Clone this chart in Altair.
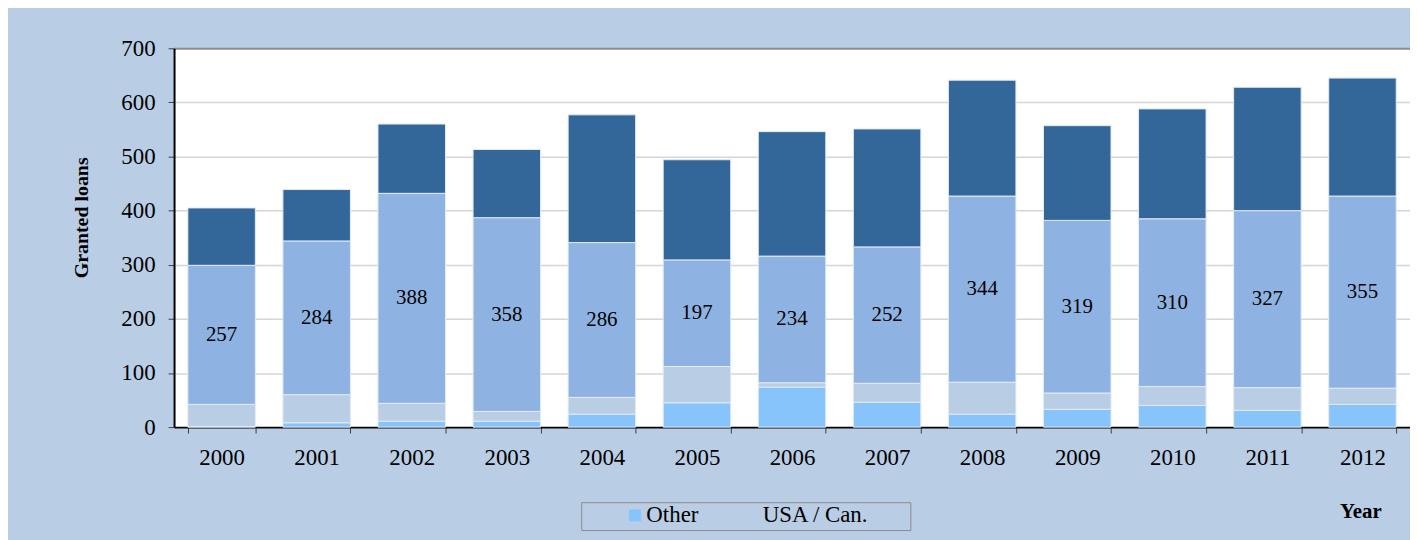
import altair as alt
import pandas as pd

years = [str(y) for y in range(2000, 2013)]
other = [1, 8, 11, 11, 24, 45, 74, 46, 24, 33, 40, 31, 42]
usa_can = [41, 52, 33, 18, 31, 67, 8, 35, 59, 30, 35, 42, 30]
europe = [257, 284, 388, 358, 286, 197, 234, 252, 344, 319, 310, 327, 355]
nordic = [106, 95, 128, 126, 236, 185, 230, 218, 214, 175, 203, 228, 218]
series = ["Other", "USA / Can.", "Europe", "Nordic countries"]
colors = ["#88c4fc", "#b9cde5", "#8eb3e2", "#336699"]

rows = []
for i, yr in enumerate(years):
    for k, (name, vals) in enumerate(zip(series, [other, usa_can, europe, nordic])):
        rows.append({"Year": yr, "Series": name, "Loans": vals[i], "ord": k})
df = pd.DataFrame(rows)

lab = pd.DataFrame({
    "Year": years,
    "base": [o + u for o, u in zip(other, usa_can)],
    "value": europe,
})

SERIF = "Liberation Serif"
W, H = 1243, 381

xscale = alt.Scale(paddingInner=0.29, paddingOuter=0.145)

bars = alt.Chart(df).mark_bar(stroke="#e2ebf6", strokeWidth=1).encode(
    x=alt.X("Year:N", sort=years, scale=xscale,
            axis=alt.Axis(title="Year", labelAngle=0, labelFont=SERIF, labelFontSize=23,
                          labelColor="black", labelPadding=14, tickBand="extent",
                          tickSize=6, tickColor="#404040", tickWidth=1,
                          domainColor="black", domainWidth=2,
                          titleFont=SERIF, titleFontSize=21, titleFontWeight="bold",
                          titleColor="black", titleX=1193, titleY=85,
                          titleAlign="center", titleBaseline="middle")),
    y=alt.Y("Loans:Q", stack="zero",
            scale=alt.Scale(domain=[0, 700], nice=False),
            axis=alt.Axis(title="Granted loans", values=[0, 100, 200, 300, 400, 500, 600, 700],
                          labelFont=SERIF, labelFontSize=23, labelColor="black",
                          labelPadding=13, tickSize=6, tickColor="#404040",
                          domainColor="black", domainWidth=2,
                          gridColor={"condition": {"test": "datum.value === 700", "value": "#8c8c8c"},
                                     "value": "#d6d6d6"},
                          gridWidth={"condition": {"test": "datum.value === 700", "value": 2},
                                     "value": 1.5},
                          titleFont=SERIF, titleFontSize=20, titleFontWeight="bold",
                          titleColor="black", titleX=-93, titleY=170, titleAngle=-90,
                          titleAlign="center", titleBaseline="middle")),
    color=alt.Color("Series:N", scale=alt.Scale(domain=series, range=colors),
                    legend=alt.Legend(title=None, orient="none", legendX=452, legendY=458,
                                      direction="horizontal", values=["Other", "USA / Can."],
                                      symbolType="square", symbolSize=144, symbolStrokeWidth=0,
                                      labelFont=SERIF, labelFontSize=23, labelColor="black",
                                      labelOffset=0, columnPadding=41, padding=0)),
    order=alt.Order("ord:Q", sort="ascending"),
)

text = alt.Chart(lab).transform_calculate(
    mid="datum.base + datum.value / 2"
).mark_text(font=SERIF, fontSize=21, color="black", baseline="middle").encode(
    x=alt.X("Year:N", sort=years, scale=xscale),
    y=alt.Y("mid:Q"),
    text="value:Q",
)

# legend frame (decoration)
frame = alt.Chart(pd.DataFrame({"f": [0]})).mark_rect(
    fillOpacity=0, stroke="#8c8c8c", strokeWidth=1
).encode(
    x=alt.value(410), x2=alt.value(741), y=alt.value(457), y2=alt.value(485)
)

chart = alt.layer(bars, text, frame).properties(
    width=W, height=H,
    background="#b9cde5",
    padding={"left": 167, "top": 39, "right": 0, "bottom": 112},
    autosize=alt.AutoSizeParams(type="none"),
).configure_view(fill="white", stroke=None)

chart.save("out.html", embed_options={"renderer": "svg", "actions": False})
